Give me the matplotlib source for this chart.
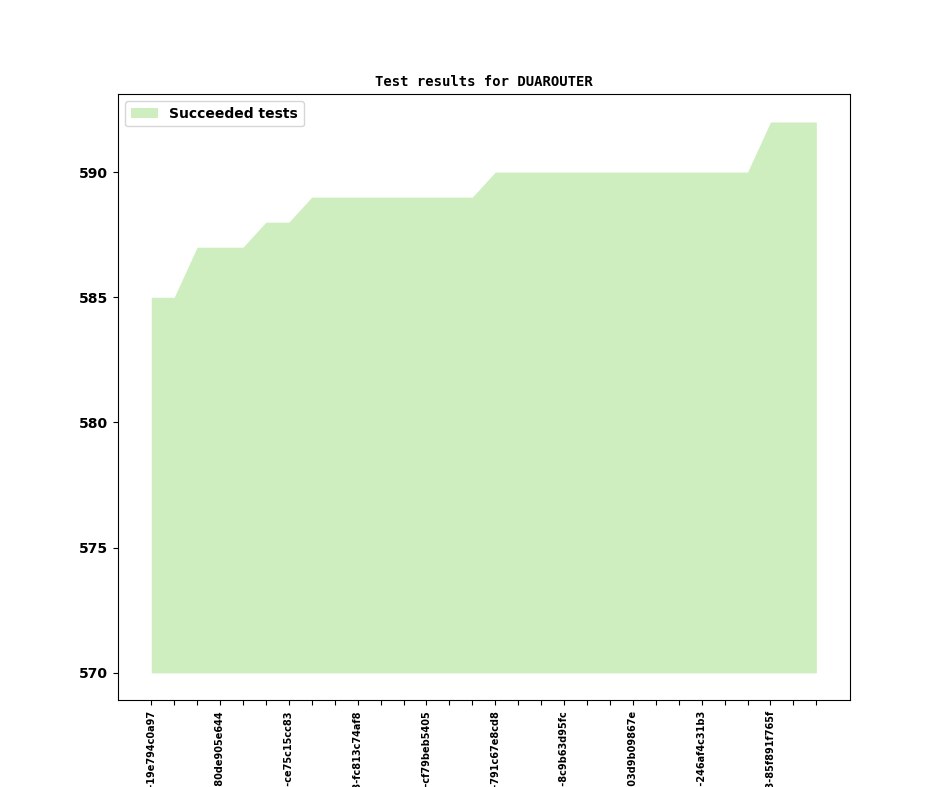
import matplotlib
matplotlib.use("Agg")
import matplotlib.pyplot as plt

# one entry per tested revision
revisions = [
    "v1_19_0+0301-19e794c0a97", "v1_19_0+0309-5d2a8e17b40", "v1_19_0+0317-a41c0f9e2d6",
    "v1_19_0+0325-80de905e644", "v1_19_0+0331-1b7f3c92e05", "v1_19_0+0338-d06e4a8b1c7",
    "v1_19_0+0346-ce75c15cc83", "v1_19_0+0352-3a9e0d7f214", "v1_19_0+0359-b8c21e4f6a0",
    "v1_19_0+0363-fc813c74af8", "v1_19_0+0370-72e5a0c9d13", "v1_19_0+0377-e4b19f03a85",
    "v1_19_0+0384-cf79beb5405", "v1_19_0+0390-0d6a2f5e7c1", "v1_19_0+0398-9f3c8b21e46",
    "v1_19_0+0405-791c67e8cd8", "v1_19_0+0411-2e0b7d4a95f", "v1_19_0+0419-a7c3e6f1082",
    "v1_19_0+0426-8c9b63d95fc", "v1_19_0+0433-51f0a2c7e3b", "v1_19_0+0440-e96d4b0a1f2",
    "v1_19_0+0447-03d9b09867e", "v1_19_0+0453-c2a7f15e0d9", "v1_19_0+0460-6b8e3d2c4a1",
    "v1_19_0+0468-246af4c31b3", "v1_19_0+0475-f1d09a7e6c2", "v1_19_0+0481-3e5c8b2a0f7",
    "v1_19_0+0493-85f891f765f", "v1_19_0+0500-a0c4e7d21b9", "v1_19_0+0508-7d2f9b6e3c0",
]
succeeded = [585, 585, 587, 587, 587, 588, 588, 589, 589, 589,
             589, 589, 589, 589, 589, 590, 590, 590, 590, 590,
             590, 590, 590, 590, 590, 590, 590, 592, 592, 592]
baseline = 570

fig, ax = plt.subplots(figsize=(9.44, 7.87), dpi=100)
x = list(range(len(revisions)))
ax.fill_between(x, baseline, succeeded, color="#cfeebf", linewidth=0,
                label="Succeeded tests")

ax.set_xticks(x)
ax.set_xticklabels([r if i % 3 == 0 else "" for i, r in enumerate(revisions)],
                   rotation=90, fontsize=7, fontweight="bold")
for lbl in ax.get_yticklabels():
    lbl.set_fontweight("bold")
ax.tick_params(axis="y", labelsize=10)

ax.set_title("Test results for DUAROUTER", fontfamily="DejaVu Sans Mono",
             fontweight="bold", fontsize=10)
ax.legend(loc="upper left", prop={"weight": "bold", "size": 10})

fig.savefig("out.png", dpi=100)
